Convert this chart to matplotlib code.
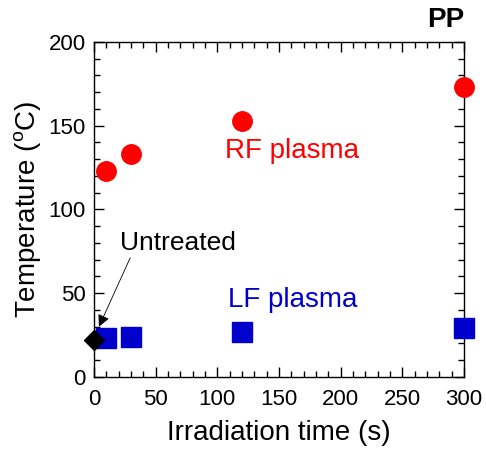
import matplotlib.pyplot as plt
from matplotlib.ticker import MultipleLocator

# data
time_s = [10, 30, 120, 300]
rf_temp = [123, 133, 153, 173]
lf_temp = [23, 24, 27, 29]
untreated_time = [0]
untreated_temp = [22]

RED = "#FF0000"
BLUE = "#0000CC"

plt.rcParams["font.family"] = ["Liberation Sans", "DejaVu Sans"]

fig = plt.figure(figsize=(4.86, 4.49), dpi=100)
ax = fig.add_axes([0.1934, 0.1604, 0.7613, 0.7461])

ax.plot(time_s, rf_temp, "o", color=RED, ms=14, clip_on=False, zorder=3)
ax.plot(time_s, lf_temp, "s", color=BLUE, ms=14.5, clip_on=False, zorder=3)
ax.plot(untreated_time, untreated_temp, "D", color="black", ms=10, clip_on=False, zorder=4)

ax.set_xlim(0, 300)
ax.set_ylim(0, 200)
ax.xaxis.set_major_locator(MultipleLocator(50))
ax.xaxis.set_minor_locator(MultipleLocator(10))
ax.yaxis.set_major_locator(MultipleLocator(50))
ax.yaxis.set_minor_locator(MultipleLocator(10))
ax.tick_params(which="both", direction="in", top=True, right=True, width=1)
ax.tick_params(which="major", length=7, labelsize=16, pad=6)
ax.tick_params(axis="x", which="major", pad=9)
ax.tick_params(which="minor", length=4)
for s in ax.spines.values():
    s.set_linewidth(1)

ax.set_xlabel("Irradiation time (s)", fontsize=20, labelpad=7)
ax.set_ylabel("Temperature ($\\mathregular{^{o}}$C)", fontsize=20, labelpad=4)

ax.text(106, 135, "RF plasma", color=RED, fontsize=20, va="center", ha="left")
ax.text(109, 46, "LF plasma", color=BLUE, fontsize=20, va="center", ha="left")
ax.annotate("Untreated", xy=(4, 30), xytext=(21, 80), fontsize=19, va="center", ha="left",
            arrowprops=dict(arrowstyle="-|>", color="black", lw=0.6, mutation_scale=18,
                            shrinkA=0, shrinkB=0, relpos=(0.1, 0)))

fig.text(0.955, 0.955, "PP", fontsize=20, fontweight="bold", ha="right", va="center")

fig.savefig("out.png", dpi=100)
